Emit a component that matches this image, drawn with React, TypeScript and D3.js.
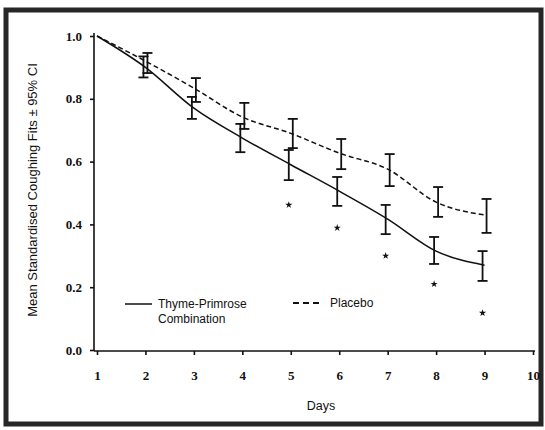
import React, { useEffect, useRef } from 'react'
import * as d3 from 'd3'

const days = [1, 2, 3, 4, 5, 6, 7, 8, 9]
const thymeMean = [1.0, 0.9, 0.77, 0.675, 0.59, 0.506, 0.417, 0.315, 0.27]
const thymeLow = [null, 0.868, 0.736, 0.63, 0.541, 0.459, 0.369, 0.274, 0.22]
const thymeHigh = [null, 0.935, 0.806, 0.72, 0.637, 0.551, 0.462, 0.36, 0.315]
const placeboMean = [1.0, 0.92, 0.834, 0.742, 0.69, 0.627, 0.576, 0.471, 0.43]
const placeboLow = [null, 0.882, 0.79, 0.704, 0.643, 0.576, 0.522, 0.424, 0.373]
const placeboHigh = [null, 0.946, 0.866, 0.787, 0.736, 0.672, 0.624, 0.519, 0.481]
const starDays = [5, 6, 7, 8, 9]
const starValues = [0.462, 0.389, 0.3, 0.21, 0.118]
const yTicks = [0, 0.2, 0.4, 0.6, 0.8, 1.0]
const xTicks = [1, 2, 3, 4, 5, 6, 7, 8, 9, 10]

const W = 545
const H = 430

export default function App() {
  const ref = useRef<SVGSVGElement>(null)

  useEffect(() => {
    const svg = d3.select(ref.current)
    svg.selectAll('*').remove()

    const x = d3.scaleLinear().domain([1, 10]).range([97, 533])
    const y = d3.scaleLinear().domain([0, 1]).range([350, 36])

    svg.append('rect').attr('width', W).attr('height', H).attr('fill', '#fff')
    // scanned frame
    svg
      .append('rect')
      .attr('x', 6)
      .attr('y', 10)
      .attr('width', 535)
      .attr('height', 414)
      .attr('fill', 'none')
      .attr('stroke', '#262626')
      .attr('stroke-width', 5)

    const serif = '"Liberation Serif", "Times New Roman", serif'
    const sans = '"Liberation Sans", Arial, sans-serif'

    // y axis
    const yAxis = svg
      .append('g')
      .attr('transform', 'translate(94,0)')
      .call(
        d3
          .axisLeft(y)
          .tickValues(yTicks)
          .tickSize(4)
          .tickPadding(8)
          .tickFormat(d3.format('.1f'))
      )
    yAxis.select('.domain').attr('d', `M0,${y(1) - 3}V${y(0) + 1}`)

    // x axis
    const xAxis = svg
      .append('g')
      .attr('transform', `translate(0,${y(0) + 1})`)
      .call(d3.axisBottom(x).tickValues(xTicks).tickSize(4).tickPadding(16).tickFormat(d3.format('d')))
    xAxis.select('.domain').attr('d', `M94,0H535`)

    svg
      .selectAll('.tick text')
      .attr('font-family', serif)
      .attr('font-weight', 'bold')
      .attr('font-size', 13)
      .attr('fill', '#111')
    svg.selectAll('.domain, .tick line').attr('stroke', '#111').attr('stroke-width', 1.6)

    const line = d3
      .line<number>()
      .x((_, i) => x(days[i]))
      .y((d) => y(d))
      .curve(d3.curveMonotoneX)

    svg
      .append('path')
      .attr('d', line(placeboMean))
      .attr('fill', 'none')
      .attr('stroke', '#111')
      .attr('stroke-width', 1.5)
      .attr('stroke-dasharray', '5,3')

    svg
      .append('path')
      .attr('d', line(thymeMean))
      .attr('fill', 'none')
      .attr('stroke', '#111')
      .attr('stroke-width', 1.5)

    const drawBars = (low: (number | null)[], high: (number | null)[], dx: number) => {
      days.forEach((d, i) => {
        const lo = low[i]
        const hi = high[i]
        if (lo == null || hi == null) return
        const cx = x(d) + dx
        const g = svg.append('g').attr('stroke', '#111').attr('stroke-width', 1.8)
        g.append('line').attr('x1', cx).attr('x2', cx).attr('y1', y(hi)).attr('y2', y(lo))
        g.append('line').attr('x1', cx - 5).attr('x2', cx + 5).attr('y1', y(hi)).attr('y2', y(hi))
        g.append('line').attr('x1', cx - 5).attr('x2', cx + 5).attr('y1', y(lo)).attr('y2', y(lo))
      })
    }
    drawBars(placeboLow, placeboHigh, 2)
    drawBars(thymeLow, thymeHigh, -2)

    const star = d3.symbol().type(d3.symbolStar).size(16)
    svg
      .selectAll('.star')
      .data(starDays)
      .enter()
      .append('path')
      .attr('class', 'star')
      .attr('d', star)
      .attr('transform', (d, i) => `translate(${x(d) - 2},${y(starValues[i])})`)
      .attr('fill', '#111')

    // legend
    const lg = svg.append('g')
    lg.append('line').attr('x1', 125).attr('x2', 152).attr('y1', 304).attr('y2', 304).attr('stroke', '#111').attr('stroke-width', 1.5)
    lg.append('text').attr('x', 158).attr('y', 308).text('Thyme-Primrose')
    lg.append('text').attr('x', 158).attr('y', 323).text('Combination')
    lg.append('line')
      .attr('x1', 293)
      .attr('x2', 320)
      .attr('y1', 303)
      .attr('y2', 303)
      .attr('stroke', '#111')
      .attr('stroke-width', 1.8)
      .attr('stroke-dasharray', '6,4')
    lg.append('text').attr('x', 330).attr('y', 307).text('Placebo')
    lg.selectAll('text').attr('font-family', sans).attr('font-size', 12).attr('fill', '#111')

    // axis titles
    svg
      .append('text')
      .attr('x', 321)
      .attr('y', 410)
      .attr('text-anchor', 'middle')
      .attr('font-family', sans)
      .attr('font-size', 12.5)
      .attr('fill', '#111')
      .text('Days')

    svg
      .append('text')
      .attr('transform', 'translate(37,190) rotate(-90)')
      .attr('text-anchor', 'middle')
      .attr('font-family', sans)
      .attr('font-size', 13)
      .attr('fill', '#111')
      .text('Mean Standardised Coughing Fits ± 95% CI')
  }, [])

  return (
    <svg
      ref={ref}
      width={W}
      height={H}
      viewBox={`0 0 ${W} ${H}`}
      style={{ position: 'absolute', left: 0, top: 0 }}
    />
  )
}
